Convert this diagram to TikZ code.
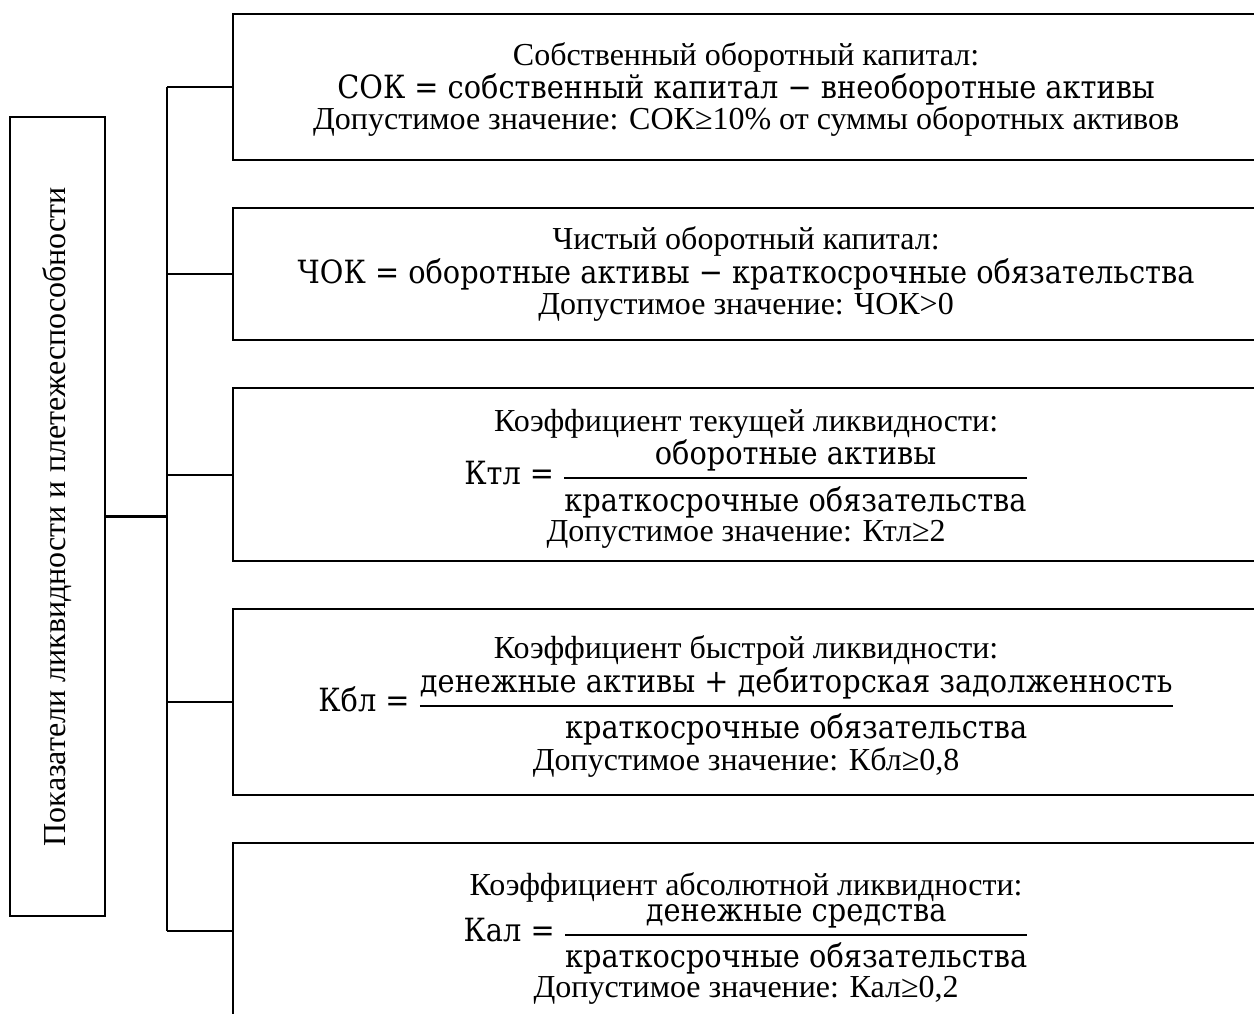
\documentclass[tikz,border=0pt]{standalone}
\usepackage{amsmath}
\usepackage{fontspec}
\setmainfont{Liberation Serif}
\newfontfamily\frm{DejaVu Serif}[FakeStretch=0.9]
\usetikzlibrary{positioning}
\newcommand{\boxfont}{\fontsize{32}{31}\selectfont\setlength{\lineskip}{2pt}}
\tikzset{
  itembox/.style={draw,line width=2.2pt,minimum width=1026pt,inner sep=0pt,align=center,
    font=\boxfont},
  mainbox/.style={draw,line width=2.2pt,minimum width=95pt,minimum height=799pt,inner sep=0pt,
    font=\boxfont},
  link/.style={line width=2.2pt}
}
\newcommand{\ratio}[3]{$\displaystyle\hbox{\frm #1 = }\genfrac{}{}{2pt}{0}%
  {\hbox{\frm #2\rule[-6.5pt]{0pt}{0pt}}}{\hbox{\frm\rule{0pt}{26pt}#3}}$}
\begin{document}
\begin{tikzpicture}[x=1pt,y=1pt,node distance=45.8pt]
  \useasboundingbox (0,0) rectangle (1254,-1014);
  \node[mainbox] (main) at (57.5,-516.5) {\rotatebox{90}{Показатели ликвидности и плетежеспособности}};
  \node[itembox,minimum height=146pt,anchor=north west] (sok) at (232,-13)
    {\rule{0pt}{28pt}Собственный оборотный капитал:\\
     {\frm СОК = собственный капитал − внеоборотные активы}\\
     Допустимое значение: СОК≥10\% от суммы оборотных активов};
  \node[itembox,minimum height=132pt,below=of sok] (chok)
    {Чистый оборотный капитал:\\
     {\frm ЧОК = оборотные активы − краткосрочные обязательства}\\
     Допустимое значение: ЧОК>0};
  \node[itembox,minimum height=173pt,below=of chok] (ktl)
    {\rule{0pt}{30pt}Коэффициент текущей ликвидности:\\
     \ratio{Ктл}{оборотные активы}{краткосрочные обязательства}\\
     Допустимое значение: Ктл≥2};
  \node[itembox,minimum height=186pt,below=of ktl] (kbl)
    {\rule{0pt}{31.5pt}Коэффициент быстрой ликвидности:\\
     \ratio{Кбл}{денежные активы + дебиторская задолженность}{краткосрочные обязательства}\\
     Допустимое значение: Кбл≥0,8};
  \node[itembox,minimum height=175pt,below=of kbl] (kal)
    {\rule{0pt}{39pt}Коэффициент абсолютной ликвидности:\\
     \ratio{Кал}{денежные средства}{краткосрочные обязательства}\\
     Допустимое значение: Кал≥0,2};
  \coordinate (trunk) at (167,0);
  \draw[link] (main.east) -- (main.east -| trunk);
  \draw[link] (sok.west -| trunk) -- (kal.west -| trunk);
  \foreach \b in {sok,chok,ktl,kbl,kal}
    \draw[link] (\b.west -| trunk) -- (\b.west);
\end{tikzpicture}
\end{document}
